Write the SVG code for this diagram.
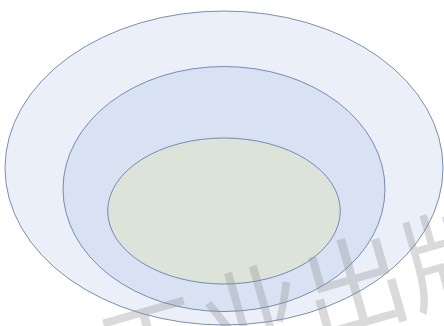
<svg xmlns="http://www.w3.org/2000/svg" width="444" height="326" viewBox="0 0 444 326">
<style>
.ring{stroke:#5A72A6;stroke-width:0.8}
.wm{font-family:"Noto Sans CJK SC","Noto Sans",sans-serif;font-size:105px;fill:#8C8C8C;fill-opacity:0.32}
</style>
<rect width="444" height="326" fill="#FFFFFF"/>
<g id="outer"><ellipse class="ring" cx="224" cy="168" rx="219" ry="157" fill="#EBEFF8"/></g>
<g id="middle"><ellipse class="ring" cx="224" cy="189" rx="161" ry="122.5" fill="#D9E2F3"/></g>
<g id="inner"><ellipse class="ring" cx="224" cy="211" rx="116.3" ry="73" fill="#DCE3D8"/></g>
<g id="connectors"></g>
<g transform="translate(302,294) rotate(-16)"><text class="wm" x="0" y="0" text-anchor="middle" dominant-baseline="central">工业出版</text></g>
</svg>
